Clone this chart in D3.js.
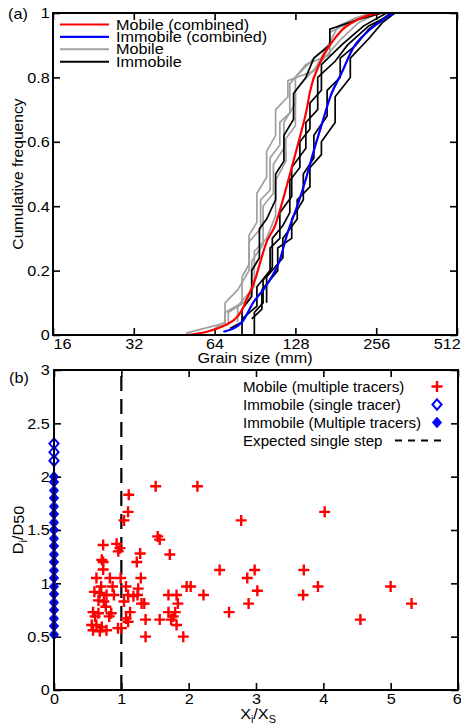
<!DOCTYPE html>
<html>
<head>
<meta charset="utf-8">
<script src="https://cdn.jsdelivr.net/npm/d3@7"></script>
<style>
  body { margin: 0; background: #fff; }
  text { font-family: "Liberation Sans", Arial, Helvetica, sans-serif; fill: #000; }
</style>
</head>
<body>
<div id="chart"></div>
<script>
// ---- panel (a): grain size distributions ----
const sizeTicks = [16, 32, 64, 128, 256, 512];
const freqTicks = [0, 0.2, 0.4, 0.6, 0.8, 1];

// [grain size mm, cumulative frequency]
const mobileCombined = [[50.5,0],[70,0.03],[81,0.078],[85,0.118],[90.5,0.171],[94.5,0.224],[100,0.289],[107.5,0.34],[115,0.42],[124,0.52],[133,0.615],[141,0.70],[145,0.755],[158,0.845],[172,0.90],[191,0.947],[217,0.978],[243,0.994],[264,1]];
const immobileCombined = [[69,0.01],[81,0.04],[89,0.10],[100,0.155],[112,0.233],[120,0.32],[130,0.40],[139,0.475],[149,0.565],[161,0.658],[172,0.736],[191,0.817],[210,0.891],[237,0.941],[264,0.972],[288,0.994],[301,1]];

const mobileTracers = [
  [[50,0.006],[70,0.037],[70,0.07],[81,0.1],[81,0.18],[86,0.22],[86,0.31],[92,0.35],[92,0.44],[100,0.49],[100,0.57],[108,0.62],[108,0.7],[120,0.74],[120,0.79],[150,0.82],[172,0.91],[185,0.96],[215,0.985],[250,1]],
  [[64,0.02],[70,0.04],[70,0.1],[78,0.14],[86,0.2],[86,0.29],[95,0.33],[95,0.42],[103,0.45],[103,0.55],[112,0.59],[112,0.66],[122,0.69],[122,0.78],[140,0.84],[172,0.87],[172,0.94],[210,0.975],[250,1]],
  [[72,0.03],[72,0.07],[82,0.1],[88,0.13],[88,0.23],[97,0.28],[97,0.4],[106,0.44],[106,0.53],[116,0.58],[116,0.66],[128,0.72],[128,0.8],[150,0.86],[180,0.92],[200,0.97],[240,1]],
  [[78,0.04],[78,0.09],[90,0.15],[90,0.26],[100,0.3],[108,0.37],[108,0.48],[118,0.54],[118,0.61],[128,0.65],[128,0.76],[160,0.85],[190,0.92],[220,0.97],[260,1]]
];
const immobileTracers = [
  [[73,0.02],[81,0.04],[81,0.08],[88,0.12],[88,0.2],[94,0.24],[94,0.33],[100,0.36],[108,0.42],[108,0.5],[116,0.54],[116,0.62],[126,0.67],[126,0.75],[140,0.8],[150,0.86],[172,0.9],[172,0.95],[220,0.98],[270,1]],
  [[90,0],[90,0.07],[97,0.1],[97,0.17],[105,0.21],[105,0.3],[115,0.34],[122,0.38],[122,0.48],[133,0.52],[133,0.6],[145,0.64],[145,0.72],[160,0.76],[160,0.84],[190,0.9],[230,0.96],[280,1]],
  [[81,0],[81,0.05],[92,0.09],[92,0.15],[103,0.2],[103,0.27],[112,0.3],[112,0.38],[124,0.43],[124,0.52],[140,0.58],[140,0.66],[155,0.7],[155,0.8],[180,0.85],[200,0.9],[240,0.96],[300,1]],
  [[88,0.05],[96,0.08],[96,0.14],[110,0.2],[110,0.27],[124,0.3],[124,0.36],[137,0.42],[137,0.5],[150,0.55],[150,0.62],[168,0.68],[168,0.76],[188,0.8],[188,0.86],[215,0.9],[240,0.95],[290,1]],
  [[100,0.1],[100,0.18],[115,0.24],[115,0.3],[130,0.36],[130,0.42],[145,0.46],[145,0.52],[160,0.56],[160,0.6],[180,0.66],[180,0.74],[205,0.8],[205,0.86],[240,0.92],[270,0.97],[300,1]]
];
const legendA = ['Mobile (combined)', 'Immobile (combined)', 'Mobile', 'Immobile'];

// ---- panel (b): step length vs relative size ----
const stepTicks = [0, 1, 2, 3, 4, 5, 6];
const ratioTicks = [0, 0.5, 1, 1.5, 2, 2.5, 3];
// mobile tracers [Xi/Xs, Di/D50]
const mobileX = [1.51,2.13,1.11,1.10,1.04,2.78,1.54,1.57,0.73,0.93,0.98,0.955,1.28,1.72,0.71,0.73,1.23,0.73,2.46,2.98,0.63,0.83,0.99,1.29,2.87,0.70,0.87,1.07,1.25,1.97,2.03,0.60,0.68,0.78,0.89,1.10,1.18,1.24,1.70,1.82,2.22,3.02,0.66,0.74,1.04,1.30,1.34,1.84,2.89,0.77,0.58,0.66,0.85,1.13,1.70,1.80,2.60,0.61,0.82,1.07,1.77,1.36,1.57,1.74,0.56,0.63,0.71,0.95,1.00,1.10,1.82,0.58,0.68,0.78,1.36,1.92,4.02,3.71,3.92,5.00,3.70,5.31,4.55];
const mobileD = [1.91,1.91,1.83,1.67,1.59,1.59,1.44,1.41,1.36,1.37,1.33,1.30,1.28,1.27,1.22,1.20,1.20,1.13,1.125,1.125,1.05,1.05,1.05,1.05,1.05,0.97,0.97,0.97,0.95,0.97,0.97,0.92,0.91,0.89,0.89,0.89,0.88,0.89,0.89,0.89,0.89,0.93,0.84,0.83,0.83,0.81,0.81,0.81,0.81,0.78,0.73,0.72,0.72,0.73,0.73,0.73,0.73,0.69,0.69,0.67,0.69,0.66,0.66,0.66,0.61,0.61,0.59,0.58,0.58,0.64,0.61,0.56,0.55,0.56,0.50,0.50,1.67,1.125,0.97,0.97,0.89,0.81,0.66];
const immobileSingleD = [2.31, 2.23, 2.15];
const immobileMultiD = [0.52,0.6,0.67,0.75,0.82,0.9,0.97,1.05,1.12,1.2,1.27,1.35,1.42,1.5,1.57,1.65,1.72,1.8,1.87,1.95,2.0];
const expectedStep = 1;
const legendB = ['Mobile (multiple tracers)', 'Immobile (single tracer)', 'Immobile (Multiple tracers)', 'Expected single step'];

const W = 461, H = 725, SX = 1.08;
const svg = d3.select('#chart').append('svg').attr('width', W).attr('height', H);

function label(g, x, y, s, anchor = 'start', rot = 0, size = 15) {
    return g.append('text')
        .attr('transform', `translate(${x},${y}) rotate(${rot}) scale(${SX},1)`)
        .attr('text-anchor', anchor)
        .style('font-size', size + 'px')
        .text(s);
}

function stretchTicks(axisG) {
    axisG.select('.domain').remove();
    axisG.selectAll('.tick line').attr('stroke', '#000').attr('stroke-width', 1.6);
    axisG.selectAll('text').attr('transform', `scale(${SX},1)`).style('font-size', '15px')
        .attr('font-family', '"Liberation Sans", Arial, sans-serif');
}

function frame(x, y) {
    const [x0, x1] = x.range(), [y0, y1] = y.range();
    svg.append('rect')
        .attr('x', x0).attr('y', y1).attr('width', x1 - x0).attr('height', y0 - y1)
        .style('fill', 'none').style('stroke', '#000').style('stroke-width', 2);
}

// ===== panel (a) =====
const xA = d3.scaleLog().base(2).domain([16, 512]).range([53, 457]);
const yA = d3.scaleLinear().domain([0, 1]).range([335, 13]);

const axA = svg.append('g').attr('transform', `translate(0,${yA(0)})`)
    .call(d3.axisBottom(xA).tickValues(sizeTicks).tickFormat(d3.format('d')).tickSizeInner(-7).tickSizeOuter(0).tickPadding(3));
stretchTicks(axA);
axA.selectAll('text').filter(d => d === 16).attr('text-anchor', 'start');
axA.selectAll('text').filter(d => d === 512).attr('text-anchor', 'end').attr('x', 3);

stretchTicks(svg.append('g').attr('transform', `translate(0,${yA(1)})`)
    .call(d3.axisTop(xA).tickValues(sizeTicks).tickFormat('').tickSizeInner(-7).tickSizeOuter(0)));
stretchTicks(svg.append('g').attr('transform', `translate(${xA.range()[0]},0)`)
    .call(d3.axisLeft(yA).tickValues(freqTicks).tickFormat(d => d === 0 || d === 1 ? d : d3.format('.1f')(d)).tickSizeInner(-7).tickSizeOuter(0).tickPadding(3)));
stretchTicks(svg.append('g').attr('transform', `translate(${xA.range()[1]},0)`)
    .call(d3.axisRight(yA).tickValues(freqTicks).tickFormat('').tickSizeInner(-7).tickSizeOuter(0)));

const lineA = d3.line().x(d => xA(d[0])).y(d => yA(d[1]));
const lineSmooth = d3.line().x(d => xA(d[0])).y(d => yA(d[1])).curve(d3.curveMonotoneX);

mobileTracers.forEach(t => svg.append('path').datum(t).attr('d', lineA)
    .style('fill', 'none').style('stroke', '#a0a0a0').style('stroke-width', 1.7));
immobileTracers.forEach(t => svg.append('path').datum(t).attr('d', lineA)
    .style('fill', 'none').style('stroke', '#000').style('stroke-width', 1.7));
svg.append('path').datum(mobileCombined).attr('d', lineSmooth)
    .style('fill', 'none').style('stroke', '#ff0000').style('stroke-width', 2.2);
svg.append('path').datum(immobileCombined).attr('d', lineSmooth)
    .style('fill', 'none').style('stroke', '#0000ff').style('stroke-width', 2.2);

frame(xA, yA);

// legend (a)
const legColorsA = ['#ff0000', '#0000ff', '#a0a0a0', '#000'];
const legA = svg.append('g');
legendA.forEach((s, i) => {
    const y = 24.5 + i * 12.4;
    legA.append('line').attr('x1', 60).attr('x2', 109).attr('y1', y).attr('y2', y)
        .style('stroke', legColorsA[i]).style('stroke-width', i < 2 ? 2.2 : 2);
    label(legA, 116, y + 5, s);
});

label(svg, 8, 19, '(a)');
label(svg, 255, 363, 'Grain size (mm)', 'middle');
label(svg, 23, yA(0.5), 'Cumulative frequency', 'middle', -90, 14.5);

// ===== panel (b) =====
const xB = d3.scaleLinear().domain([0, 6]).range([54, 458]);
const yB = d3.scaleLinear().domain([0, 3]).range([690, 370]);

const axB = svg.append('g').attr('transform', `translate(0,${yB(0)})`)
    .call(d3.axisBottom(xB).tickValues(stepTicks).tickFormat(d3.format('d')).tickSizeInner(-7).tickSizeOuter(0).tickPadding(3));
stretchTicks(axB);
axB.selectAll('text').filter(d => d === 6).attr('text-anchor', 'end').attr('x', 3);
stretchTicks(svg.append('g').attr('transform', `translate(0,${yB(3)})`)
    .call(d3.axisTop(xB).tickValues(stepTicks).tickFormat('').tickSizeInner(-7).tickSizeOuter(0)));
stretchTicks(svg.append('g').attr('transform', `translate(${xB.range()[0]},0)`)
    .call(d3.axisLeft(yB).tickValues(ratioTicks).tickFormat(d => d).tickSizeInner(-7).tickSizeOuter(0).tickPadding(4)));
stretchTicks(svg.append('g').attr('transform', `translate(${xB.range()[1]},0)`)
    .call(d3.axisRight(yB).tickValues(ratioTicks).tickFormat('').tickSizeInner(-7).tickSizeOuter(0)));

// expected single step
svg.append('line')
    .attr('x1', xB(expectedStep)).attr('x2', xB(expectedStep))
    .attr('y1', yB(0)).attr('y2', yB(3))
    .style('stroke', '#000').style('stroke-width', 2.2).style('stroke-dasharray', '15,8');

const plusPath = 'M-5.5,0H5.5M0,-5.5V5.5';
const diamondPath = 'M0,-5.2L4.6,0L0,5.2L-4.6,0Z';

svg.append('g').selectAll('path')
    .data(mobileX.map((x, i) => [x, mobileD[i]]))
    .enter().append('path')
    .attr('transform', d => `translate(${xB(d[0])},${yB(d[1])})`)
    .attr('d', plusPath)
    .style('fill', 'none').style('stroke', '#ff0000').style('stroke-width', 2.4);

svg.append('g').selectAll('path')
    .data(immobileMultiD)
    .enter().append('path')
    .attr('transform', d => `translate(${xB(0)},${yB(d)})`)
    .attr('d', diamondPath)
    .style('fill', '#0000ff').style('stroke', '#0000ff').style('stroke-width', 1);

svg.append('g').selectAll('path')
    .data(immobileSingleD)
    .enter().append('path')
    .attr('transform', d => `translate(${xB(0)},${yB(d)})`)
    .attr('d', diamondPath)
    .style('fill', '#fff').style('stroke', '#0000ff').style('stroke-width', 2);

frame(xB, yB);

// legend (b)
const legB = svg.append('g');
legendB.forEach((s, i) => {
    const y = 386.5 + i * 18;
    label(legB, 243, y + 5, s, 'start', 0, 14);
    const m = legB.append('g').attr('transform', `translate(437,${y})`);
    if (i === 0) m.append('path').attr('d', plusPath).style('fill', 'none').style('stroke', '#ff0000').style('stroke-width', 2.4);
    if (i === 1) m.append('path').attr('d', diamondPath).style('fill', '#fff').style('stroke', '#0000ff').style('stroke-width', 2);
    if (i === 2) m.append('path').attr('d', diamondPath).style('fill', '#0000ff').style('stroke', '#0000ff');
    if (i === 3) legB.append('line').attr('x1', 395).attr('x2', 442).attr('y1', y).attr('y2', y)
        .style('stroke', '#000').style('stroke-width', 2).style('stroke-dasharray', '7,6');
});

label(svg, 9, 383, '(b)');

// axis titles with subscripts
const xt = label(svg, 258, 719, '', 'middle');
xt.append('tspan').text('X');
xt.append('tspan').attr('dy', 4).style('font-size', '10px').text('i');
xt.append('tspan').attr('dy', -4).text('/X');
xt.append('tspan').attr('dy', 4).style('font-size', '10px').text('S');

const yt = label(svg, 23, yB(1.5), '', 'middle', -90);
yt.append('tspan').text('D');
yt.append('tspan').attr('dy', 4).style('font-size', '10px').text('i');
yt.append('tspan').attr('dy', -4).text('/D');
yt.append('tspan').attr('dy', 1).text('50');
</script>
</body>
</html>
